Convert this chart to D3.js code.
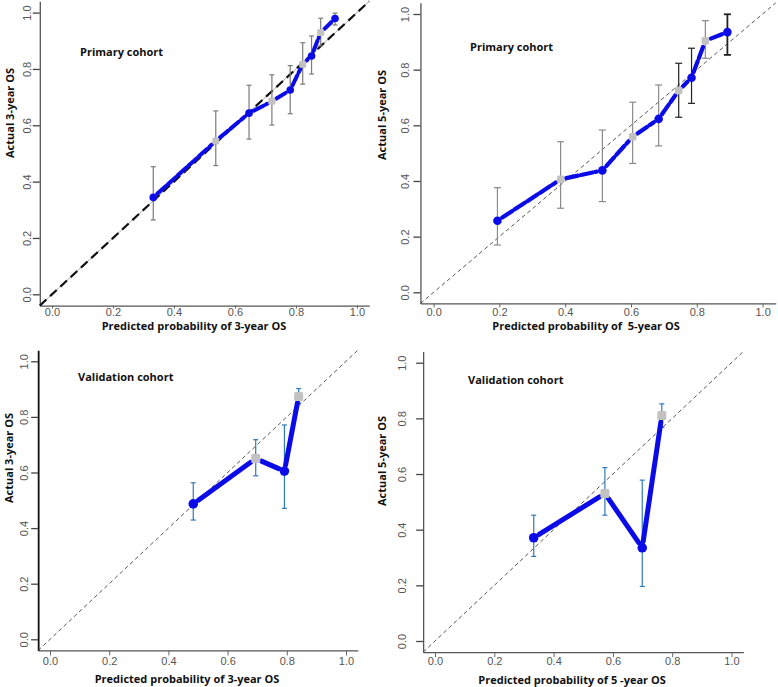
<!DOCTYPE html>
<html><head><meta charset="utf-8">
<script src="https://cdn.jsdelivr.net/npm/d3@7"></script>
<style>body{margin:0;background:#fff}svg{display:block}</style>
</head><body>
<script>
// ---------- data ----------
const tickValues = [0, 0.2, 0.4, 0.6, 0.8, 1.0];
const tickLabels = ["0.0", "0.2", "0.4", "0.6", "0.8", "1.0"];

// Primary cohort, 3-year OS
const p1Pred = [0.332, 0.537, 0.646, 0.721, 0.781, 0.822, 0.851, 0.881, 0.928];
const p1Obs  = [0.344, 0.544, 0.643, 0.685, 0.725, 0.817, 0.846, 0.929, 0.979];
const p1Lo   = [0.264, 0.457, 0.551, 0.601, 0.641, 0.746, 0.782, 0.882, 0.956];
const p1Hi   = [0.453, 0.651, 0.742, 0.779, 0.812, 0.893, 0.917, 0.980, 0.998];
const p1Kind = ["A", "B", "A", "B", "A", "B", "A", "B", "A"];

// Primary cohort, 5-year OS
const p2Pred = [0.194, 0.386, 0.513, 0.605, 0.684, 0.745, 0.784, 0.826, 0.893];
const p2Obs  = [0.257, 0.406, 0.438, 0.559, 0.623, 0.725, 0.771, 0.904, 0.935];
const p2Lo   = [0.170, 0.302, 0.326, 0.463, 0.526, 0.629, 0.679, 0.841, 0.853];
const p2Hi   = [0.376, 0.541, 0.583, 0.683, 0.745, 0.823, 0.877, 0.976, 0.999];
const p2Kind = ["A", "B", "A", "B", "A", "B", "A", "B", "A"];

// Validation cohort, 3-year OS
const p3Pred = [0.484, 0.695, 0.792, 0.840];
const p3Obs  = [0.487, 0.650, 0.605, 0.873];
const p3Lo   = [0.429, 0.588, 0.471, 0.850];
const p3Hi   = [0.563, 0.718, 0.771, 0.902];
const p3Kind = ["A", "B", "A", "B"];

// Validation cohort, 5-year OS
const p4Pred = [0.333, 0.573, 0.699, 0.765];
const p4Obs  = [0.371, 0.530, 0.335, 0.810];
const p4Lo   = [0.304, 0.452, 0.196, 0.768];
const p4Hi   = [0.452, 0.623, 0.578, 0.852];
const p4Kind = ["A", "B", "A", "B"];

const cohortLabels = ["Primary cohort", "Primary cohort", "Validation cohort", "Validation cohort"];
const xTitles = ["Predicted probability of 3-year OS", "Predicted probability of  5-year OS",
                 "Predicted probability of 3-year OS", "Predicted probability of 5 -year OS"];
const yTitles = ["Actual 3-year OS", "Actual 5-year OS", "Actual 3-year OS", "Actual 5-year OS"];

// ---------- layout / style ----------
const W = 778, H = 687;
const svg = d3.select("body").append("svg").attr("width", W).attr("height", H);

const panels = [
  {pred:p1Pred, obs:p1Obs, lo:p1Lo, hi:p1Hi, kind:p1Kind,
   x0:52, xu:305, y0:294.3, yu:281.7,
   cohort:[80,56], xt:[194,329.5], yt:[10,113], xlabY:311.5, ylabX:27, xTick:3,
   diag:"thick", lineW:4, dash:"11,3", r:3.8, sq:7, cap:5, bar:"#7a7a7a", yAxisCol:"#555", xAxisCol:"#555"},
  {pred:p2Pred, obs:p2Obs, lo:p2Lo, hi:p2Hi, kind:p2Kind,
   x0:433.6, xu:329, y0:292.3, yu:278.3,
   cohort:[470,51], xt:[586,330], yt:[382,115], xlabY:312, ylabX:405, xTick:4,
   diag:"thin", lineW:4.2, dash:"12,3", r:4.3, sq:7.5, cap:7, bar:"#8a8a8a", dark:[5,6,8], yAxisCol:"#555", xAxisCol:"#555"},
  {pred:p3Pred, obs:p3Obs, lo:p3Lo, hi:p3Hi, kind:p3Kind,
   x0:50, xu:296, y0:639.3, yu:278,
   cohort:[78,381], xt:[187,683], yt:[9,458], xlabY:661, ylabX:24, xTick:5,
   diag:"thin", lineW:5, dash:null, r:4.8, sq:9, cap:5, bar:"#2f7ab8", yAxisCol:"#111", xAxisCol:"#555"},
  {pred:p4Pred, obs:p4Obs, lo:p4Lo, hi:p4Hi, kind:p4Kind,
   x0:435, xu:296.5, y0:641, yu:278.3,
   cohort:[468,384], xt:[572,684], yt:[382,461], xlabY:661.5, ylabX:402, xTick:5,
   diag:"thin", lineW:5, dash:null, r:4.8, sq:9, cap:5, bar:"#2f7ab8", yAxisCol:"#555", xAxisCol:"#555"}
];

const blue = "#0b0be8";
const grey = "#c2c2c2";

panels.forEach((p, i) => {
  const x = d3.scaleLinear().domain([-0.04, 1.04]).range([p.x0 - 0.04 * p.xu, p.x0 + 1.04 * p.xu]);
  const y = d3.scaleLinear().domain([-0.04, 1.04]).range([p.y0 + 0.04 * p.yu, p.y0 - 1.04 * p.yu]);
  const g = svg.append("g");

  // axes (R style, bty = "l")
  const xAxis = d3.axisBottom(x).tickValues(tickValues).tickFormat((d, k) => tickLabels[k]).tickSize(p.xTick).tickSizeOuter(0);
  const yAxis = d3.axisLeft(y).tickValues(tickValues).tickFormat((d, k) => tickLabels[k]).tickSize(7).tickSizeOuter(0);
  const gx = g.append("g").attr("transform", `translate(0,${y(-0.04)})`).call(xAxis);
  const gy = g.append("g").attr("transform", `translate(${x(-0.04)},0)`).call(yAxis);
  gx.select(".domain").attr("stroke", p.xAxisCol).attr("stroke-width", 1.3);
  gx.selectAll(".tick line").attr("stroke", "#666");
  gy.select(".domain").attr("stroke", p.yAxisCol).attr("stroke-width", p.yAxisCol === "#111" ? 1.8 : 1.3);
  gy.selectAll(".tick line").attr("stroke", "#444").attr("stroke-width", 1.3);
  gx.selectAll(".tick text").attr("font-family", "Liberation Sans, Arial, sans-serif")
    .attr("font-size", 11).attr("fill", "#555").attr("dy", null)
    .attr("y", p.xlabY - y(-0.04) + 4);
  gy.selectAll(".tick text").each(function(d){
    d3.select(this).attr("x", null).attr("dy", null)
      .attr("text-anchor", "middle")
      .attr("transform", `translate(${p.ylabX - x(-0.04) + 4},0) rotate(-90)`)
      .attr("font-family", "Liberation Sans, Arial, sans-serif")
      .attr("font-size", 11).attr("fill", "#555");
  });

  // diagonal reference line
  if (p.diag === "thick") {
    g.append("line").attr("x1", x(-0.04)).attr("y1", y(-0.04)).attr("x2", x(1.04)).attr("y2", y(1.04))
      .attr("stroke", "#999").attr("stroke-width", 0.8);
    g.append("line").attr("x1", x(-0.04)).attr("y1", y(-0.04)).attr("x2", x(1.04)).attr("y2", y(1.04))
      .attr("stroke", "#111").attr("stroke-width", 2.2).attr("stroke-dasharray", "9,5");
  } else {
    g.append("line").attr("x1", x(-0.04)).attr("y1", y(-0.04)).attr("x2", x(1.04)).attr("y2", y(1.04))
      .attr("stroke", "#444").attr("stroke-width", 0.9).attr("stroke-dasharray", "4,3");
  }

  const idx = d3.range(p.pred.length);

  // error bars
  idx.forEach(k => {
    const col = (p.dark && p.dark.includes(k)) ? "#222" : p.bar;
    const cx = x(p.pred[k]);
    const eb = g.append("g").attr("stroke", col).attr("stroke-width", (p.dark && k === 8) ? 1.8 : 1.2);
    eb.append("line").attr("x1", cx).attr("x2", cx).attr("y1", y(p.lo[k])).attr("y2", y(p.hi[k]));
    eb.append("line").attr("x1", cx - p.cap / 2).attr("x2", cx + p.cap / 2).attr("y1", y(p.lo[k])).attr("y2", y(p.lo[k]));
    eb.append("line").attr("x1", cx - p.cap / 2).attr("x2", cx + p.cap / 2).attr("y1", y(p.hi[k])).attr("y2", y(p.hi[k]));
  });

  // calibration line (type = "b": segments stop short of the points)
  const gap = p.r + 1.5;
  for (let k = 0; k < p.pred.length - 1; k++) {
    const ax = x(p.pred[k]), ay = y(p.obs[k]), bx = x(p.pred[k + 1]), by = y(p.obs[k + 1]);
    const len = Math.hypot(bx - ax, by - ay);
    if (len <= 2 * gap) continue;
    const ux = (bx - ax) / len, uy = (by - ay) / len;
    const seg = g.append("line")
      .attr("x1", ax + ux * gap).attr("y1", ay + uy * gap)
      .attr("x2", bx - ux * gap).attr("y2", by - uy * gap)
      .attr("stroke", blue).attr("stroke-width", p.lineW).attr("stroke-linecap", "round");
    if (p.dash) seg.attr("stroke-dasharray", p.dash);
  }

  // points
  idx.forEach(k => {
    const cx = x(p.pred[k]), cy = y(p.obs[k]);
    if (p.kind[k] === "A") {
      g.append("circle").attr("cx", cx).attr("cy", cy).attr("r", p.r).attr("fill", blue);
    } else {
      g.append("rect").attr("x", cx - p.sq / 2).attr("y", cy - p.sq / 2).attr("width", p.sq).attr("height", p.sq)
        .attr("rx", 1.5).attr("fill", grey);
    }
  });

  // texts
  const bold = {family: "Open Sans, Noto Sans, sans-serif", size: 11};
  g.append("text").attr("x", p.cohort[0]).attr("y", p.cohort[1]).text(cohortLabels[i])
    .attr("font-family", bold.family).attr("font-weight", "bold").attr("font-size", bold.size).attr("fill", "#111");
  g.append("text").attr("x", p.xt[0]).attr("y", p.xt[1]).attr("text-anchor", "middle").text(xTitles[i])
    .style("white-space", "pre")
    .attr("font-family", bold.family).attr("font-weight", "bold").attr("font-size", bold.size).attr("fill", "#111");
  g.append("text").attr("transform", `translate(${p.yt[0]},${p.yt[1]}) rotate(-90)`).attr("text-anchor", "middle")
    .attr("dy", "0.35em").text(yTitles[i])
    .attr("font-family", bold.family).attr("font-weight", "bold").attr("font-size", bold.size).attr("fill", "#111");
});
</script>
</body></html>
